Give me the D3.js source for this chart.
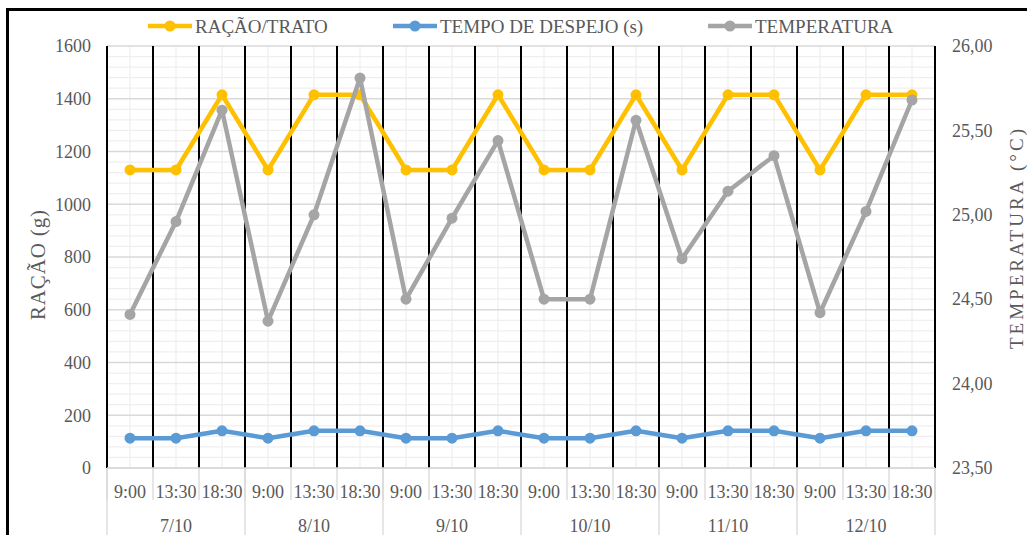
<!DOCTYPE html>
<html>
<head>
<meta charset="utf-8">
<script src="https://cdn.jsdelivr.net/npm/d3@7/dist/d3.min.js"></script>
<style>
  html, body { margin: 0; padding: 0; background: #fff; }
  svg { display: block; }
  text { font-family: "Liberation Serif", "Times New Roman", serif; fill: #595959; }
</style>
</head>
<body>
<svg id="chart" width="1027" height="535"></svg>
<script>
// Feeding schedule, three readings per day
const dates = ["7/10", "8/10", "9/10", "10/10", "11/10", "12/10"];
const times = ["9:00", "13:30", "18:30"];

// Feed per serving (g)
const racao = [1130, 1130, 1415, 1130, 1415, 1415, 1130, 1130, 1415,
               1130, 1130, 1415, 1130, 1415, 1415, 1130, 1415, 1415];
// Dispensing time (s)
const despejo = [113, 113, 141, 113, 141, 141, 113, 113, 141,
                 113, 113, 141, 113, 141, 141, 113, 141, 141];
// Temperature (°C)
const temperatura = [24.41, 24.96, 25.62, 24.37, 25.00, 25.81, 24.50, 24.98, 25.44,
                     24.50, 24.50, 25.56, 24.74, 25.14, 25.35, 24.42, 25.02, 25.68];

const leftTicks = [0, 200, 400, 600, 800, 1000, 1200, 1400, 1600];
const rightTicks = [23.5, 24.0, 24.5, 25.0, 25.5, 26.0];

const seriesInfo = [
  { name: "RAÇÃO/TRATO", values: racao, color: "#FFC000", axis: "left" },
  { name: "TEMPO DE DESPEJO (s)", values: despejo, color: "#5B9BD5", axis: "left" },
  { name: "TEMPERATURA", values: temperatura, color: "#A5A5A5", axis: "right" }
];

const svg = d3.select("#chart");
const plot = { left: 107, right: 935, top: 46, bottom: 468 };

// Outer frame
svg.append("rect")
  .attr("x", 7.5).attr("y", 9.5).attr("width", 1200).attr("height", 700)
  .attr("fill", "#fff").attr("stroke", "#000").attr("stroke-width", 3);

const keys = [];
dates.forEach(d => times.forEach(t => keys.push(d + " " + t)));

const x = d3.scaleBand().domain(keys).range([plot.left, plot.right]).padding(0);
const xDate = d3.scaleBand().domain(dates).range([plot.left, plot.right]).padding(0);
const yL = d3.scaleLinear().domain([0, 1600]).range([plot.bottom, plot.top]);
const yR = d3.scaleLinear().domain([23.5, 26]).range([plot.bottom, plot.top]);

const fmtR = v => d3.format(".2f")(v).replace(".", ",");

// Minor horizontal gridlines
const grid = svg.append("g");
grid.selectAll("line.minor-h")
  .data(d3.range(40, 1600, 40).filter(v => v % 200 !== 0))
  .join("line")
  .attr("x1", plot.left).attr("x2", plot.right)
  .attr("y1", d => yL(d)).attr("y2", d => yL(d))
  .attr("stroke", "#efefef").attr("stroke-width", 1.2);

// Minor vertical gridlines at category centres
grid.selectAll("line.minor-v")
  .data(keys)
  .join("line")
  .attr("x1", d => x(d) + x.bandwidth() / 2).attr("x2", d => x(d) + x.bandwidth() / 2)
  .attr("y1", plot.top).attr("y2", plot.bottom)
  .attr("stroke", "#efefef").attr("stroke-width", 1.2);

// Major horizontal gridlines
grid.selectAll("line.major-h")
  .data(leftTicks)
  .join("line")
  .attr("x1", plot.left).attr("x2", plot.right)
  .attr("y1", d => yL(d)).attr("y2", d => yL(d))
  .attr("stroke", "#d9d9d9").attr("stroke-width", 1.3);

// Category separators below the plot
const sepT = keys.map(k => x(k)).concat([plot.right]);
svg.append("g").selectAll("line")
  .data(sepT)
  .join("line")
  .attr("x1", d => d).attr("x2", d => d)
  .attr("y1", plot.bottom).attr("y2", plot.bottom + 32)
  .attr("stroke", "#d9d9d9").attr("stroke-width", 1.3);
const sepD = dates.map(d => xDate(d)).concat([plot.right]);
svg.append("g").selectAll("line")
  .data(sepD)
  .join("line")
  .attr("x1", d => d).attr("x2", d => d)
  .attr("y1", plot.bottom).attr("y2", 540)
  .attr("stroke", "#d9d9d9").attr("stroke-width", 1.3);

// Black vertical dividers between readings
svg.append("g").selectAll("line")
  .data(sepT)
  .join("line")
  .attr("x1", d => d).attr("x2", d => d)
  .attr("y1", plot.top).attr("y2", plot.bottom)
  .attr("stroke", "#000").attr("stroke-width", 2);

// Axes
const axL = svg.append("g").attr("transform", `translate(${plot.left},0)`)
  .call(d3.axisLeft(yL).tickValues(leftTicks).tickSize(0).tickPadding(16).tickFormat(d3.format("d")));
const axR = svg.append("g").attr("transform", `translate(${plot.right},0)`)
  .call(d3.axisRight(yR).tickValues(rightTicks).tickSize(0).tickPadding(17).tickFormat(fmtR));
const axT = svg.append("g").attr("transform", `translate(0,${plot.bottom})`)
  .call(d3.axisBottom(x).tickSize(0).tickPadding(17).tickFormat(k => k.split(" ")[1]));
const axD = svg.append("g").attr("transform", `translate(0,${plot.bottom})`)
  .call(d3.axisBottom(xDate).tickSize(0).tickPadding(51).tickFormat(d => d));
[axL, axR, axT, axD].forEach(a => {
  a.select(".domain").remove();
  a.selectAll("text").style("font-size", "18px").attr("fill", "#595959")
    .style("font-family", '"Liberation Serif", "Times New Roman", serif');
});

// Bottom axis line
svg.append("line")
  .attr("x1", plot.left).attr("x2", plot.right)
  .attr("y1", plot.bottom).attr("y2", plot.bottom)
  .attr("stroke", "#d9d9d9").attr("stroke-width", 1.5);

// Axis titles
svg.append("text")
  .attr("transform", `translate(45,265) rotate(-90)`)
  .attr("text-anchor", "middle")
  .attr("textLength", 110).attr("lengthAdjust", "spacing")
  .style("font-size", "21px")
  .text("RAÇÃO (g)");
svg.append("text")
  .attr("transform", `translate(1022.5,239) rotate(-90)`)
  .attr("text-anchor", "middle")
  .attr("textLength", 220).attr("lengthAdjust", "spacing")
  .style("font-size", "19px")
  .text("TEMPERATURA  (°C)");

// Series lines and markers
const series = svg.append("g");
seriesInfo.forEach(s => {
  const yS = s.axis === "left" ? yL : yR;
  const line = d3.line()
    .x((d, i) => x(keys[i]) + x.bandwidth() / 2)
    .y(d => yS(d));
  const g = series.append("g");
  g.append("path")
    .datum(s.values)
    .attr("d", line)
    .attr("fill", "none")
    .attr("stroke", s.color)
    .attr("stroke-width", 4.5)
    .attr("stroke-linejoin", "round");
  g.selectAll("circle")
    .data(s.values)
    .join("circle")
    .attr("cx", (d, i) => x(keys[i]) + x.bandwidth() / 2)
    .attr("cy", d => yS(d))
    .attr("r", 5.5)
    .attr("fill", s.color);
});

// Legend
const legendX = [148, 393, 708];
const legend = svg.append("g");
seriesInfo.forEach((s, i) => {
  const g = legend.append("g").attr("transform", `translate(${legendX[i]},26)`);
  g.append("line").attr("x1", 0).attr("x2", 44).attr("y1", 0).attr("y2", 0)
    .attr("stroke", s.color).attr("stroke-width", 4.5);
  g.append("circle").attr("cx", 22).attr("cy", 0).attr("r", 5.5).attr("fill", s.color);
  g.append("text").attr("x", 47).attr("y", 6.5)
    .style("font-size", "19px")
    .text(s.name);
});
</script>
</body>
</html>
